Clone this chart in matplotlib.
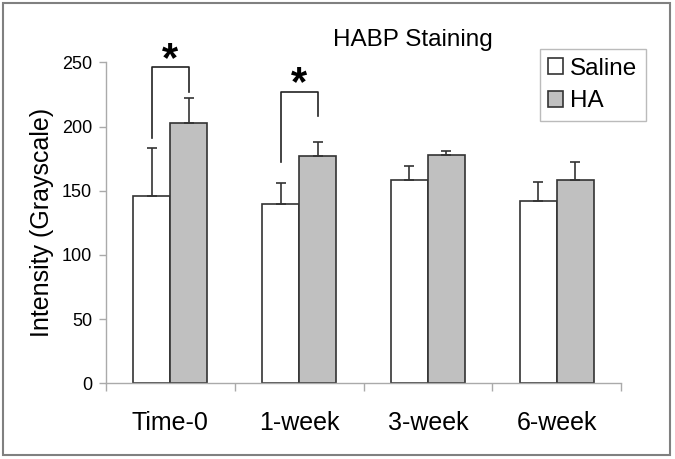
import matplotlib
matplotlib.use('Agg')

import numpy as np
import matplotlib.pyplot as plt
from matplotlib.patches import Rectangle

plt.rcParams['font.family'] = ['Liberation Sans', 'DejaVu Sans']

# ─── Data ───
categories = ['Time-0', '1-week', '3-week', '6-week']
saline_mean = [146, 140, 158, 142]
saline_err = [37, 16, 11.5, 14.5]
ha_mean = [203, 177, 178, 158]
ha_err = [19, 11, 3, 14]

# significance brackets: (category index, top, left foot, right foot)
sig_pairs = [(0, 246, 191, 227), (1, 227, 172, 208)]

W, H = 675, 459
fig = plt.figure(figsize=(W / 100, H / 100), dpi=100)
ax = fig.add_axes([106 / W, 1 - 383.3 / H, (621 - 106) / W, (383.3 - 62.3) / H])

x = np.arange(len(categories))
bw = 0.287
edge = '#333333'
err_kw = dict(ecolor=edge, elinewidth=1.2, capsize=3.3, capthick=1.2)

ax.bar(x - bw / 2, saline_mean, bw, color='white', edgecolor=edge, linewidth=1.2,
       yerr=[np.zeros(len(x)), saline_err], error_kw=err_kw, label='Saline', zorder=2)
ax.bar(x + bw / 2, ha_mean, bw, color='#c0c0c0', edgecolor=edge, linewidth=1.2,
       yerr=[np.zeros(len(x)), ha_err], error_kw=err_kw, label='HA', zorder=2)

# brackets and stars
for i, top, lf, rf in sig_pairs:
    xl, xr = i - bw / 2, i + bw / 2
    ax.plot([xl, xl, xr, xr], [lf, top, top, rf], color='#222222', lw=1.2,
            clip_on=False, zorder=3)
    ax.text(i, top - 2.5, '*', ha='center', va='baseline', fontsize=30,
            fontweight='bold', clip_on=False)

ax.set_xlim(-0.5, len(categories) - 0.5)
ax.set_ylim(0, 250)
ax.set_yticks([0, 50, 100, 150, 200, 250])
ax.tick_params(axis='y', labelsize=13, length=5, width=1, color='#aaaaaa', pad=5)

# ticks at category boundaries, labels at centres
ax.set_xticks(np.arange(len(categories) + 1) - 0.5)
ax.set_xticklabels([])
ax.set_xticks(x, minor=True)
ax.set_xticklabels(categories, minor=True, fontsize=18)
ax.tick_params(axis='x', which='major', length=6, width=1, color='#aaaaaa')
ax.tick_params(axis='x', which='minor', length=0, pad=20)

for s in ['top', 'right']:
    ax.spines[s].set_visible(False)
for s in ['left', 'bottom']:
    ax.spines[s].set_color('#aaaaaa')
    ax.spines[s].set_linewidth(1)

ax.set_ylabel('Intensity (Grayscale)', fontsize=18)
ax.yaxis.set_label_coords(-0.101, 0.5)

fig.text(413 / W, 1 - 40 / H, 'HABP Staining', ha='center', va='center', fontsize=17.5)

leg = ax.legend(loc='upper right', bbox_to_anchor=(646 / W, 1 - 49 / H),
                bbox_transform=fig.transFigure, borderaxespad=0, fontsize=17.5,
                fancybox=False, handlelength=0.6, handleheight=0.6,
                handletextpad=0.3, borderpad=0.35, labelspacing=0.45)
leg.get_frame().set_edgecolor('#aaaaaa')
leg.get_frame().set_linewidth(1)
for h in leg.legend_handles:
    h.set_edgecolor('#333333')

# outer frame
fig.patches.append(Rectangle((3 / W, 4 / H), 667 / W, 452 / H, transform=fig.transFigure,
                             fill=False, edgecolor='#808080', linewidth=1.5))

fig.savefig('out.png', dpi=100)
